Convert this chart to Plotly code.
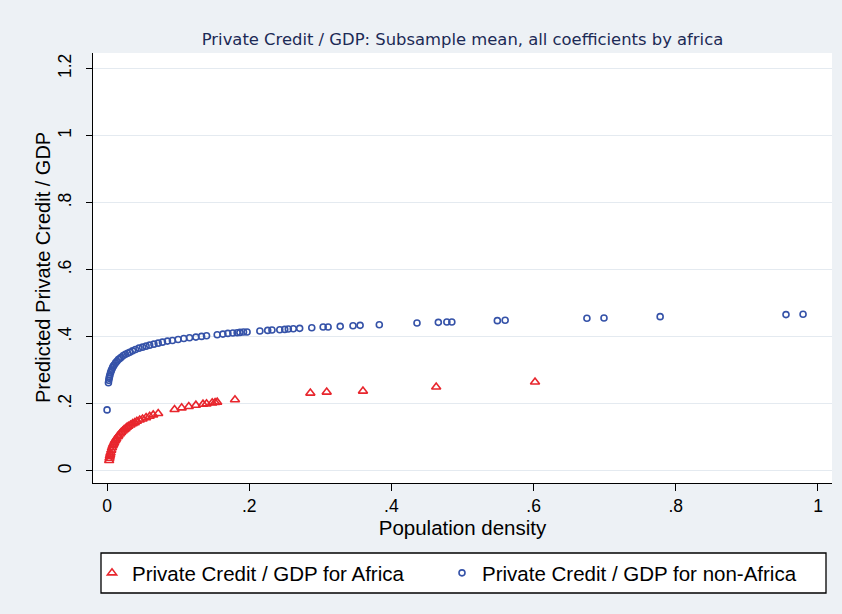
import plotly.graph_objects as go

# ---------------- data ----------------
africa_x = [0.003, 0.0035, 0.004, 0.0045, 0.005, 0.006, 0.007, 0.008, 0.009, 0.010,
            0.011, 0.012, 0.013, 0.015, 0.016, 0.018, 0.020, 0.022, 0.024, 0.026,
            0.028, 0.030, 0.033, 0.036, 0.039, 0.042, 0.046, 0.050, 0.055, 0.060,
            0.065, 0.072, 0.095, 0.105, 0.115, 0.125, 0.135, 0.140, 0.148, 0.152,
            0.155, 0.180, 0.286, 0.309, 0.360, 0.463, 0.602]
africa_y = [0.031, 0.038, 0.044, 0.049, 0.054, 0.062, 0.069, 0.075, 0.080, 0.084,
            0.089, 0.092, 0.096, 0.102, 0.105, 0.110, 0.115, 0.119, 0.123, 0.126,
            0.130, 0.133, 0.137, 0.141, 0.144, 0.148, 0.152, 0.155, 0.159, 0.163,
            0.167, 0.171, 0.183, 0.188, 0.192, 0.196, 0.199, 0.200, 0.203, 0.204,
            0.205, 0.212, 0.232, 0.235, 0.238, 0.250, 0.265]

nonafrica_x = [0.0001, 0.002, 0.0025, 0.003, 0.0035, 0.004, 0.005, 0.006, 0.007, 0.008,
               0.009, 0.010, 0.012, 0.014, 0.016, 0.018, 0.020, 0.023, 0.026, 0.029,
               0.032, 0.036, 0.040, 0.045, 0.050, 0.055, 0.060, 0.066, 0.072, 0.078,
               0.085, 0.092, 0.100, 0.108, 0.116, 0.125, 0.133, 0.140, 0.155, 0.163,
               0.170, 0.177, 0.183, 0.187, 0.192, 0.197, 0.215, 0.226, 0.232, 0.243,
               0.250, 0.255, 0.262, 0.271, 0.288, 0.304, 0.311, 0.328, 0.346, 0.356,
               0.383, 0.436, 0.466, 0.478, 0.485, 0.549, 0.560, 0.675, 0.699, 0.778,
               0.955, 0.979]
nonafrica_y = [0.182, 0.263, 0.270, 0.276, 0.281, 0.286, 0.293, 0.299, 0.304, 0.309,
               0.313, 0.316, 0.322, 0.327, 0.332, 0.335, 0.339, 0.344, 0.348, 0.351,
               0.354, 0.358, 0.362, 0.366, 0.369, 0.372, 0.375, 0.378, 0.381, 0.384,
               0.387, 0.389, 0.392, 0.395, 0.397, 0.399, 0.401, 0.403, 0.406, 0.408,
               0.410, 0.411, 0.412, 0.413, 0.414, 0.414, 0.417, 0.419, 0.420, 0.421,
               0.422, 0.423, 0.424, 0.425, 0.427, 0.429, 0.429, 0.431, 0.433, 0.434,
               0.436, 0.441, 0.443, 0.444, 0.444, 0.448, 0.449, 0.455, 0.456, 0.460,
               0.466, 0.467]

x_tickvals = [0, 0.2, 0.4, 0.6, 0.8, 1]
x_ticktext = ["0", ".2", ".4", ".6", ".8", "1"]
y_tickvals = [0, 0.2, 0.4, 0.6, 0.8, 1, 1.2]
y_ticktext = ["0", ".2", ".4", ".6", ".8", "1", "1.2"]

title_text = "Private Credit / GDP: Subsample mean, all coefficients by africa"
x_title = "Population density"
y_title = "Predicted Private Credit / GDP"
name_africa = "Private Credit / GDP for Africa"
name_nonafrica = "Private Credit / GDP for non-Africa"

RED = "#E8262D"
BLUE = "#3552A8"
BG = "#EDF1F5"
FONT = "Liberation Sans, Arial, sans-serif"

W, H = 842, 614
L, R, T, B = 93, 10, 53, 131
PW, PH = W - L - R, H - T - B


def px_x(p):  # container pixel -> paper x
    return (p - L) / PW


def px_y(p):  # container pixel -> paper y
    return (H - B - p) / PH


fig = go.Figure()
fig.add_trace(go.Scatter(
    x=africa_x, y=africa_y, mode="markers", name=name_africa, legend="legend",
    marker=dict(symbol="triangle-up-open", size=8, color=RED, line=dict(width=1.6, color=RED)),
))
fig.add_trace(go.Scatter(
    x=nonafrica_x, y=nonafrica_y, mode="markers", name=name_nonafrica, legend="legend2",
    marker=dict(symbol="circle-open", size=6, color=BLUE, line=dict(width=1.6, color=BLUE)),
))

# legend frame (white box with black border)
fig.add_shape(type="rect", xref="paper", yref="paper",
              x0=px_x(101), x1=px_x(826), y0=px_y(593), y1=px_y(553),
              fillcolor="white", line=dict(color="black", width=1.3), layer="below")

# y-axis title as annotation for precise placement
fig.add_annotation(text=y_title, xref="paper", yref="paper", x=px_x(43), y=px_y(268),
                   xanchor="center", yanchor="middle", textangle=-90, showarrow=False,
                   font=dict(size=20, family=FONT, color="black"))

legend_common = dict(orientation="h", xref="container", yref="container",
                     xanchor="left", y=1 - 573 / H, yanchor="middle",
                     bgcolor="rgba(0,0,0,0)", borderwidth=0,
                     font=dict(size=20.5, family=FONT, color="black"), itemwidth=30)

fig.update_layout(
    width=W, height=H,
    margin=dict(l=L, r=R, t=T, b=B),
    paper_bgcolor=BG, plot_bgcolor="white",
    font=dict(family=FONT, color="black"),
    title=dict(text=title_text, x=(L + W - R) / 2 / W, xanchor="center",
               y=1 - 39 / H, yanchor="middle",
               font=dict(family="DejaVu Sans, sans-serif", size=16.4, color="#1C2A55")),
    showlegend=True,
    legend=dict(x=92 / W, **legend_common),
    legend2=dict(x=442 / W, **legend_common),
    xaxis=dict(range=[-0.0197, 1.0197], tickvals=x_tickvals, ticktext=x_ticktext,
               showgrid=False, zeroline=False, showline=True, linecolor="black", linewidth=1.3,
               ticks="outside", ticklen=7, tickcolor="black", tickwidth=1.3,
               tickfont=dict(size=17.5, family=FONT, color="black"),
               title=dict(text=x_title, font=dict(size=20.5, family=FONT, color="black"), standoff=0)),
    yaxis=dict(range=[-0.036, 1.246], tickvals=y_tickvals, ticktext=y_ticktext, tickangle=-90,
               showgrid=True, gridcolor="#E4EAF0", gridwidth=1, zeroline=False,
               showline=True, linecolor="black", linewidth=1.3,
               ticks="outside", ticklen=6, tickcolor="black", tickwidth=1.3,
               ticklabelstandoff=8,
               tickfont=dict(size=17.5, family=FONT, color="black")),
)

fig.write_html("out.html", config={"displayModeBar": False},
               post_script="document.body.style.margin='0';document.body.style.padding='0';")
